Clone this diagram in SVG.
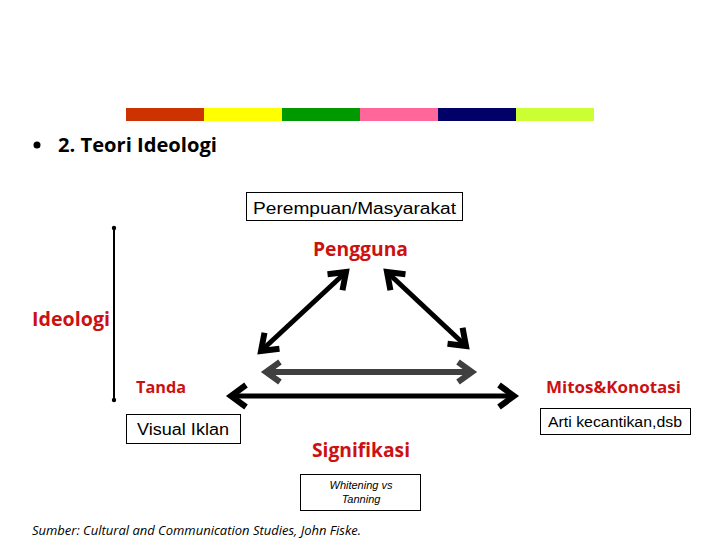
<svg xmlns="http://www.w3.org/2000/svg" width="720" height="540" viewBox="0 0 720 540">
<style>
.red{fill:#CC1111;font-family:"Open Sans","Noto Sans",sans-serif;font-weight:bold}
.lbl{fill:#000;font-family:"Liberation Sans",Arial,sans-serif}
.box{fill:#fff;stroke:#000;stroke-width:1}
.arr{stroke:#000;stroke-width:5;fill:none}
.garr{stroke:#404040;stroke-width:6;fill:none}
</style>
<defs>
<marker id="hb" markerUnits="userSpaceOnUse" viewBox="-6 -16 32 32" markerWidth="32" markerHeight="32" refX="17" refY="0" orient="auto-start-reverse">
<path d="M2,-11 L17,0 L2,11" fill="none" stroke="#000" stroke-width="6"/>
</marker>
<marker id="hg" markerUnits="userSpaceOnUse" viewBox="-6 -16 32 32" markerWidth="32" markerHeight="32" refX="17" refY="0" orient="auto-start-reverse">
<path d="M3,-10 L17,0 L3,10" fill="none" stroke="#404040" stroke-width="6"/>
</marker>
</defs>
<rect width="720" height="540" fill="#fff"/>
<g id="colorbar">
<rect x="126" y="108" width="78" height="13" fill="#CC3300"/>
<rect x="204" y="108" width="78" height="13" fill="#FFFF00"/>
<rect x="282" y="108" width="78" height="13" fill="#009900"/>
<rect x="360" y="108" width="78" height="13" fill="#FF6699"/>
<rect x="438" y="108" width="78" height="13" fill="#000066"/>
<rect x="516" y="108" width="78" height="13" fill="#CCFF33"/>
</g>
<g id="title">
<circle cx="37" cy="145" r="3.5" fill="#000"/>
<text x="58" y="152" font-family="'Open Sans','Noto Sans',sans-serif" font-weight="bold" font-size="20" textLength="159" lengthAdjust="spacingAndGlyphs">2. Teori Ideologi</text>
</g>
<g id="connectors">
<line x1="114" y1="228" x2="114" y2="400" stroke="#000" stroke-width="2"/>
<circle cx="114" cy="228" r="2.2" fill="#000"/>
<circle cx="114" cy="400" r="2.2" fill="#000"/>
<line class="arr" x1="261" y1="351" x2="346" y2="272" marker-start="url(#hb)" marker-end="url(#hb)"/>
<line class="arr" x1="387" y1="272" x2="466" y2="346" marker-start="url(#hb)" marker-end="url(#hb)"/>
<line class="garr" x1="266" y1="372" x2="472" y2="372" marker-start="url(#hg)" marker-end="url(#hg)"/>
<line class="arr" x1="231" y1="396" x2="514" y2="396" marker-start="url(#hb)" marker-end="url(#hb)"/>
</g>
<g id="perempuan">
<rect class="box" x="246.5" y="192.5" width="216" height="28"/>
<text class="lbl" x="253" y="214" font-size="16" textLength="203" lengthAdjust="spacingAndGlyphs">Perempuan/Masyarakat</text>
</g>
<g id="pengguna">
<text class="red" x="313" y="256" font-size="19" textLength="95" lengthAdjust="spacingAndGlyphs">Pengguna</text>
</g>
<g id="ideologi">
<text class="red" x="32" y="326" font-size="19" textLength="78" lengthAdjust="spacingAndGlyphs">Ideologi</text>
</g>
<g id="tanda">
<text class="red" x="136" y="393" font-size="16" textLength="50" lengthAdjust="spacingAndGlyphs">Tanda</text>
</g>
<g id="visual">
<rect class="box" x="126.5" y="414.5" width="114" height="29"/>
<text class="lbl" x="137" y="435" font-size="16" textLength="92" lengthAdjust="spacingAndGlyphs">Visual Iklan</text>
</g>
<g id="mitos">
<text class="red" x="546" y="393" font-size="16" textLength="135" lengthAdjust="spacingAndGlyphs">Mitos&amp;Konotasi</text>
</g>
<g id="arti">
<rect class="box" x="540.5" y="408.5" width="150" height="26"/>
<text class="lbl" x="548" y="427" font-size="14" textLength="134" lengthAdjust="spacingAndGlyphs">Arti kecantikan,dsb</text>
</g>
<g id="signifikasi">
<text class="red" x="312" y="457" font-size="19" textLength="98" lengthAdjust="spacingAndGlyphs">Signifikasi</text>
</g>
<g id="whitening">
<rect class="box" x="300.5" y="474.5" width="120" height="36"/>
<text class="lbl" x="361" y="489" font-size="11" font-style="italic" text-anchor="middle">Whitening vs</text>
<text class="lbl" x="361" y="503" font-size="11" font-style="italic" text-anchor="middle">Tanning</text>
</g>
<g id="sumber">
<text x="32" y="535" font-family="'Open Sans','Noto Sans',sans-serif" font-style="italic" font-size="13" textLength="329" lengthAdjust="spacingAndGlyphs">Sumber: Cultural and Communication Studies, John Fiske.</text>
</g>
</svg>
